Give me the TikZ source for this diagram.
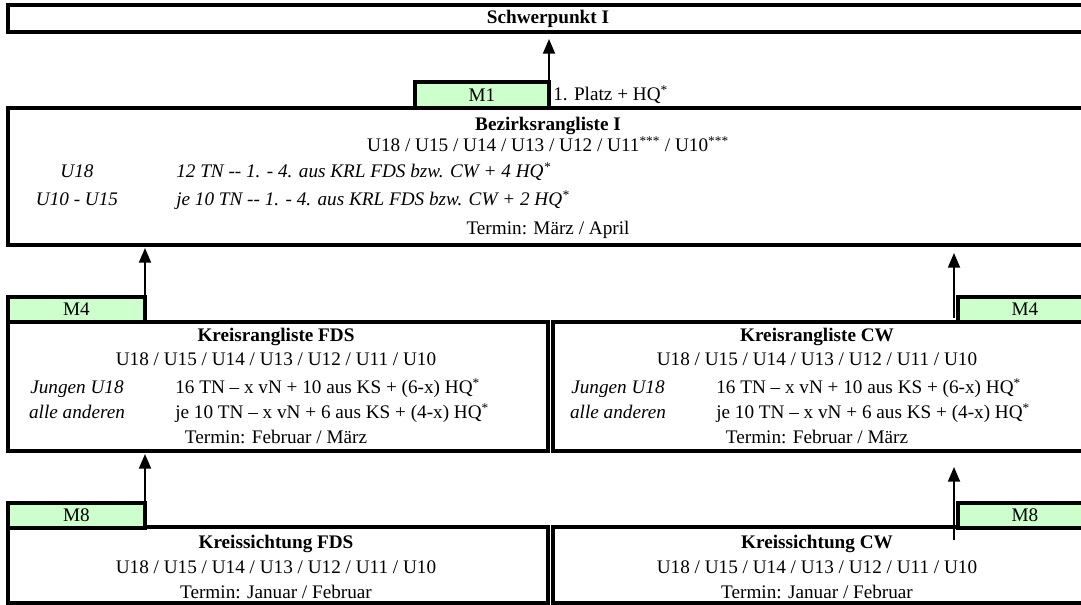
\documentclass[tikz,border=0pt]{standalone}
\usepackage{fontspec}
\setmainfont{Liberation Serif}
\usepackage{tikz}
\usetikzlibrary{arrows.meta,fit}
\definecolor{mgreen}{HTML}{CCFFCC}
\tikzset{
    Box/.style = {draw,line width=2.6pt,inner sep=0pt,outer sep=0pt},
    MBox/.style = {Box,fill=mgreen},
    Up/.style = {line width=1.4pt,-{Triangle[length=11pt,width=9pt]}},
    Txt/.style = {anchor=base,inner sep=0pt}
}

\begin{document}
\begin{tikzpicture}[x=0.75pt,y=-0.75pt,font=\fontsize{14.4}{17}\selectfont]
    \useasboundingbox (0,0) rectangle (1081,605);
    % the big boxes
    \node[Box,fit={(8,5) (1092,32)}] (sp) {};
    \node[Box,fit={(8,108) (1092,245)}] (brl) {};
    \node[Box,fit={(8,322) (548,451)}] (krlFDS) {};
    \node[Box,fit={(553,322) (1085,451)}] (krlCW) {};
    \node[Box,fit={(8,527) (548,603)}] (ksFDS) {};
    \node[Box,fit={(553,527) (1085,603)}] (ksCW) {};
    % the green boxes
    \node[MBox,fit={(415,82) (549,108)}] (m1) {};
    \node (m1L) at (m1.center) {M1};
    \foreach \Y/\M in {297/4,503/8}
        {\node[MBox,fit={(8,\Y) (145,\Y+25)}] (mL\M) {};
        \node[MBox,fit={(958,\Y) (1092,\Y+25)}] (mR\M) {};
        \node (mL\M T) at (mL\M.center) {M\M};
        \node (mR\M T) at (1025,\Y+12.5) {M\M};}
    % texts
    \node[Txt] (spT) at (548,24) {\bfseries Schwerpunkt I};
    \node[Txt,anchor=base west] (m1T) at (553,101) {1. Platz + HQ\textsuperscript{*}};
    \node[Txt] (brlT) at (548,131) {\bfseries Bezirksrangliste I};
    \node[Txt] (brlU) at (548,152) {U18 / U15 / U14 / U13 / U12 / U11\textsuperscript{***} / U10\textsuperscript{***}};
    \node[Txt] (brlA) at (77,178) {\itshape U18};
    \node[Txt,anchor=base west] (brlB) at (176,178) {\itshape 12 TN -{}- 1. - 4. aus KRL FDS bzw. CW + 4 HQ\textsuperscript{*}};
    \node[Txt] (brlC) at (77,206) {\itshape U10 - U15};
    \node[Txt,anchor=base west] (brlD) at (176,206) {\itshape je 10 TN -{}- 1. - 4. aus KRL FDS bzw. CW + 2 HQ\textsuperscript{*}};
    \node[Txt] (brlE) at (548,235) {Termin: März / April};
    \foreach \X/\N in {0/FDS,541/CW}
        {\node[Txt] (krlT\N) at (276+\X,342) {\bfseries Kreisrangliste \N};
        \node[Txt] (krlU\N) at (276+\X,366) {U18 / U15 / U14 / U13 / U12 / U11 / U10};
        \node[Txt] (krlA\N) at (77+\X,394) {\itshape Jungen U18};
        \node[Txt,anchor=base west] (krlB\N) at (175+\X,394) {16 TN – x vN + 10 aus KS + (6-x) HQ\textsuperscript{*}};
        \node[Txt] (krlC\N) at (77+\X,419) {\itshape alle anderen};
        \node[Txt,anchor=base west] (krlD\N) at (175+\X,419) {je 10 TN – x vN + 6 aus KS + (4-x) HQ\textsuperscript{*}};
        \node[Txt] (krlE\N) at (276+\X,444) {Termin: Februar / März};
        \node[Txt] (ksT\N) at (276+\X,548) {\bfseries Kreissichtung \N};
        \node[Txt] (ksU\N) at (276+\X,573) {U18 / U15 / U14 / U13 / U12 / U11 / U10};
        \node[Txt] (ksE\N) at (276+\X,598) {Termin: Januar / Februar};}
    % arrows
    \coordinate (t1) at (549,39);
    \coordinate (t2) at (145,248);
    \coordinate (t3) at (954,253);
    \coordinate (t4) at (145,454);
    \coordinate (t5) at (954,467);
    \coordinate (s3) at (954,318);
    \coordinate (s5) at (954,540);
    \draw[Up] (m1.south east) -- (t1);
    \draw[Up] (mL4.north east) -- (t2);
    \draw[Up] (s3) -- (t3);
    \draw[Up] (mL8.north east) -- (t4);
    \draw[Up] (s5) -- (t5);
\end{tikzpicture}
\end{document}
